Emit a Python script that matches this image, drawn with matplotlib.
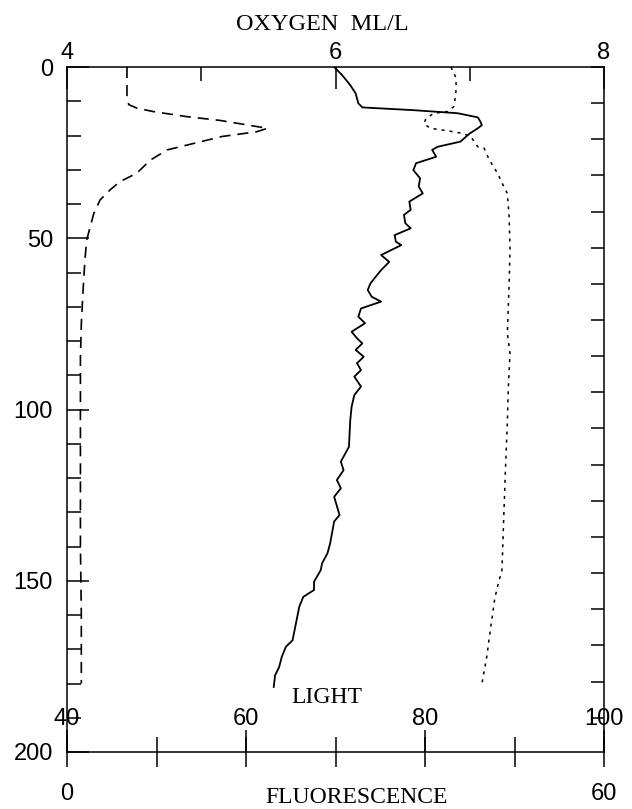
import matplotlib
matplotlib.use("Agg")
import matplotlib.pyplot as plt
from matplotlib.ticker import MultipleLocator, FixedLocator, FixedFormatter, NullFormatter

plt.rcParams['lines.scale_dashes'] = False
SANS = ['Liberation Sans', 'DejaVu Sans']
SERIF = ['Liberation Serif', 'DejaVu Serif']

# ---------------- data ----------------
fluo_depth = [0, 5, 8.7, 11, 12, 13, 14.5, 15.6, 16.9, 17.9, 18.9, 20.3, 22.8, 24.2,
              27.2, 31, 33.5, 35.9, 38.8, 42.7, 47.6, 50.5, 56.4, 65, 75, 85, 100,
              120, 140, 160, 180]
fluo_value = [6.7, 6.7, 6.7, 6.9, 7.8, 9.6, 13.4, 17.1, 20.1, 22.4, 21.2, 17.3, 13.4, 11.2,
              9.3, 7.8, 5.9, 4.8, 3.7, 3.0, 2.5, 2.2, 2.0, 1.8, 1.6, 1.5, 1.5,
              1.5, 1.5, 1.6, 1.6]

oxy_depth = [0, 2.4, 5.3, 7.7, 10.6, 11.8, 12.6, 13.5, 14.7, 16.0, 17.0, 17.9, 19.4, 21.8,
             23.3, 24.2, 26.2, 28.1, 30.1, 32.5, 34.9, 36.9, 39.3, 41.7, 43.2, 45.6, 47.1,
             49.1, 51.0, 52.0, 54.9, 56.9, 59.3, 61.7, 63.2, 65.1, 67.1, 68.5, 70.5, 72.9,
             74.8, 77.3, 79.2, 80.7, 82.6, 84.6, 86.5, 88.5, 90.4, 93.3, 95.8, 99.2, 103.1,
             110.9, 115.2, 117.7, 120.6, 123.0, 125.5, 130.8, 132.7, 139.1, 142.0, 144.9,
             146.9, 150.3, 152.7, 154.7, 157.6, 163.5, 167.4, 169.3, 172.2, 175.2, 177.6,
             181.0]
oxy_value = [5.99, 6.05, 6.11, 6.15, 6.17, 6.20, 6.58, 6.91, 7.06, 7.08, 7.09, 7.06, 7.00, 6.93,
             6.76, 6.72, 6.75, 6.60, 6.58, 6.63, 6.62, 6.65, 6.55, 6.56, 6.51, 6.52, 6.56,
             6.44, 6.45, 6.49, 6.34, 6.40, 6.34, 6.29, 6.26, 6.24, 6.27, 6.34, 6.19, 6.17,
             6.22, 6.12, 6.16, 6.20, 6.15, 6.21, 6.16, 6.19, 6.14, 6.19, 6.14, 6.12, 6.11,
             6.10, 6.04, 6.06, 6.01, 6.04, 5.99, 6.03, 5.99, 5.96, 5.94, 5.90,
             5.89, 5.84, 5.84, 5.76, 5.73, 5.70, 5.68, 5.63, 5.60, 5.58, 5.55,
             5.54]

light_depth = [0, 2.8, 5.7, 8.7, 11.6, 13.0, 13.5, 15.0, 16.6, 17.9, 18.6, 19.4, 20.3, 23.3,
               23.7, 27.2, 31.0, 34.9, 36.9, 43.7, 53.4, 63.2, 77.8, 83.6, 94.3, 104,
               116.7, 131.3, 146.9, 150.7, 155.1, 164.4, 172.2, 180.9]
light_value = [82.9, 83.4, 83.5, 83.4, 83.2, 82.5, 81.0, 80.1, 79.9, 80.6, 82.5, 84.2, 85.1, 85.9,
               86.6, 87.2, 88.1, 88.8, 89.2, 89.4, 89.5, 89.4, 89.2, 89.5, 89.3, 89.2,
               89.0, 88.8, 88.6, 88.2, 87.8, 87.3, 86.9, 86.3]

depth_ticks = [0, 50, 100, 150, 200]
oxy_ticks = [4, 6, 8]
light_ticks = [40, 60, 80, 100]
fluo_ticks = [0, 10, 20, 30, 40, 50, 60]
fluo_labels = ['0', '', '', '', '', '', '60']

# ---------------- figure ----------------
W, H = 632, 809
fig = plt.figure(figsize=(W / 100, H / 100), dpi=100)
L, R, T, B = 67, 604, 67, 752
ax = fig.add_axes([L / W, (H - B) / H, (R - L) / W, (B - T) / H])

LW = 1.1
for sp in ax.spines.values():
    sp.set_linewidth(LW)

# fluorescence (bottom axis)
ax.set_xlim(0, 60)
ax.set_ylim(200, 0)
ax.plot(fluo_value, fluo_depth, color='black', lw=1.2, linestyle=(0, (8, 5)))
ax.xaxis.set_major_locator(FixedLocator(fluo_ticks))
ax.xaxis.set_major_formatter(FixedFormatter(fluo_labels))
ax.tick_params(axis='x', which='major', direction='inout', length=21, width=LW,
               pad=12, labelsize=17, top=False)
ax.yaxis.set_major_locator(FixedLocator(depth_ticks))
ax.yaxis.set_minor_locator(MultipleLocator(10))
ax.tick_params(axis='y', which='major', direction='in', length=16, width=LW,
               pad=10, labelsize=17, right=False)
ax.tick_params(axis='y', which='minor', direction='in', length=10, width=LW, right=False)
for lab in ax.get_xticklabels() + ax.get_yticklabels():
    lab.set_family(SANS)

# right-side tick scale
ax_r = ax.twinx()
ax_r.set_ylim(18.95, 0)
ax_r.yaxis.set_major_locator(MultipleLocator(1))
ax_r.yaxis.set_major_formatter(NullFormatter())
ax_r.tick_params(axis='y', direction='in', length=9.5, width=LW, left=False, right=True)
for sp in ax_r.spines.values():
    sp.set_visible(False)

# oxygen (top axis)
ax_o = ax.twiny()
ax_o.set_xlim(4, 8)
ax_o.plot(oxy_value, oxy_depth, color='black', lw=1.3)
ax_o.xaxis.set_major_locator(FixedLocator(oxy_ticks))
ax_o.xaxis.set_minor_locator(MultipleLocator(1))
ax_o.tick_params(axis='x', which='major', direction='in', length=16, width=LW,
                 pad=2, labelsize=17, top=True, bottom=False)
ax_o.tick_params(axis='x', which='minor', direction='in', length=10, width=LW,
                 top=True, bottom=False)
for lab in ax_o.get_xticklabels():
    lab.set_family(SANS)
for sp in ax_o.spines.values():
    sp.set_visible(False)
ax_o.text(0.475, 1.054, 'OXYGEN  ML/L', transform=ax_o.transAxes, ha='center',
          va='baseline', fontsize=17.5, family=SERIF)

# light (labels inside, above bottom line)
ax_l = ax.twiny()
ax_l.set_xlim(40, 100)
ax_l.plot(light_value, light_depth, color='black', lw=1.1, linestyle=(0, (2.2, 3.6)))
ax_l.xaxis.set_ticks_position('bottom')
ax_l.xaxis.set_label_position('bottom')
ax_l.xaxis.set_major_locator(FixedLocator(light_ticks))
ax_l.tick_params(axis='x', which='major', direction='in', length=16, width=LW,
                 pad=-31.5, labelsize=17, bottom=True, top=False,
                 labelbottom=True, labeltop=False)
for lab in ax_l.get_xticklabels():
    lab.set_family(SANS)
for sp in ax_l.spines.values():
    sp.set_visible(False)
ax_l.text(0.484, 0.0715, 'LIGHT', transform=ax_l.transAxes, ha='center',
          va='baseline', fontsize=17, family=SERIF)

ax.text(0.539, -0.0745, 'FLUORESCENCE', transform=ax.transAxes, ha='center',
        va='baseline', fontsize=17, family=SERIF)

fig.savefig('out.png', dpi=100)
